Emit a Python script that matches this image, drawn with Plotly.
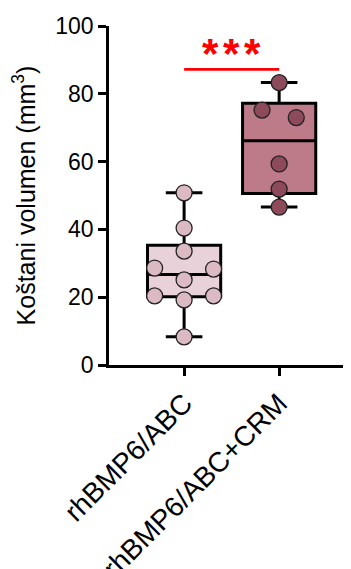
import numpy as np
import plotly.graph_objects as go

# ---- data ----
categories = ["rhBMP6/ABC", "rhBMP6/ABC+CRM"]
g1_values = [50.8, 40.4, 33.6, 28.6, 28.3, 25.1, 20.4, 20.4, 19.2, 8.3]
g2_values = [83.3, 75.2, 73.0, 59.3, 51.9, 46.6]
# horizontal spread of the dots (fraction of category spacing)
g1_offsets = [0, 0, 0, -0.31, 0.31, 0, -0.31, 0.31, 0, 0]
g2_offsets = [0, -0.18, 0.18, 0, 0, 0]
y_ticks = [0, 20, 40, 60, 80, 100]
sig_stars = 3
sig_y = 87.2

box_fills = ["#e8d1d9", "#bd7b8a"]
dot_fills = ["#dcbac4", "#8c4a5a"]

FONT = "Liberation Sans, Arial, sans-serif"

fig = go.Figure()
groups = [g1_values, g2_values]
offsets = [g1_offsets, g2_offsets]

for i, vals in enumerate(groups):
    v = np.array(vals)
    q1, med, q3 = np.percentile(v, [25, 50, 75], method="weibull")
    fig.add_trace(go.Box(
        x=[i], q1=[q1], median=[med], q3=[q3],
        lowerfence=[v.min()], upperfence=[v.max()],
        width=0.77, whiskerwidth=0.5,
        fillcolor=box_fills[i],
        line=dict(color="black", width=3),
        boxpoints=False, showlegend=False, hoverinfo="skip",
    ))

for i, vals in enumerate(groups):
    fig.add_trace(go.Scatter(
        x=[i + o for o in offsets[i]], y=vals, mode="markers",
        marker=dict(size=16, color=dot_fills[i],
                    line=dict(color="#222222", width=1.3)),
        showlegend=False, hoverinfo="skip",
    ))

# significance bar between the two groups
fig.add_shape(type="line", x0=0, x1=1, y0=sig_y, y1=sig_y,
              xref="x", yref="y", line=dict(color="red", width=2.7))
mid = 0.5
for k in range(sig_stars):
    fig.add_annotation(x=mid + (k - (sig_stars - 1) / 2) * 0.22, y=sig_y,
                       xref="x", yref="y", text="<b>*</b>",
                       showarrow=False, yanchor="middle", yshift=16,
                       font=dict(family=FONT, size=42, color="red"))

fig.update_layout(
    width=351, height=569,
    margin=dict(l=101, r=0, t=18, b=212),
    plot_bgcolor="white", paper_bgcolor="white",
    font=dict(family=FONT, size=23, color="black"),
)
fig.update_xaxes(
    range=[-0.79, 1.84], tickvals=[0, 1], ticktext=categories,
    tickangle=-45, showline=True, linecolor="black", linewidth=2.5,
    ticks="outside", ticklen=8, tickwidth=2.5, tickcolor="black",
    showgrid=False, zeroline=False, tickfont=dict(size=28),
    automargin=False,
)
fig.update_yaxes(
    range=[0, 100], tickvals=y_ticks, showline=True, linecolor="black",
    linewidth=2.5, ticks="outside", ticklen=8, tickwidth=2.5,
    tickcolor="black", showgrid=False, zeroline=False,
    tickfont=dict(size=23), automargin=False,
    title=dict(text="Koštani volumen (mm<sup>3</sup>)", font=dict(size=25),
               standoff=14),
)

fig.write_html("out.html")
